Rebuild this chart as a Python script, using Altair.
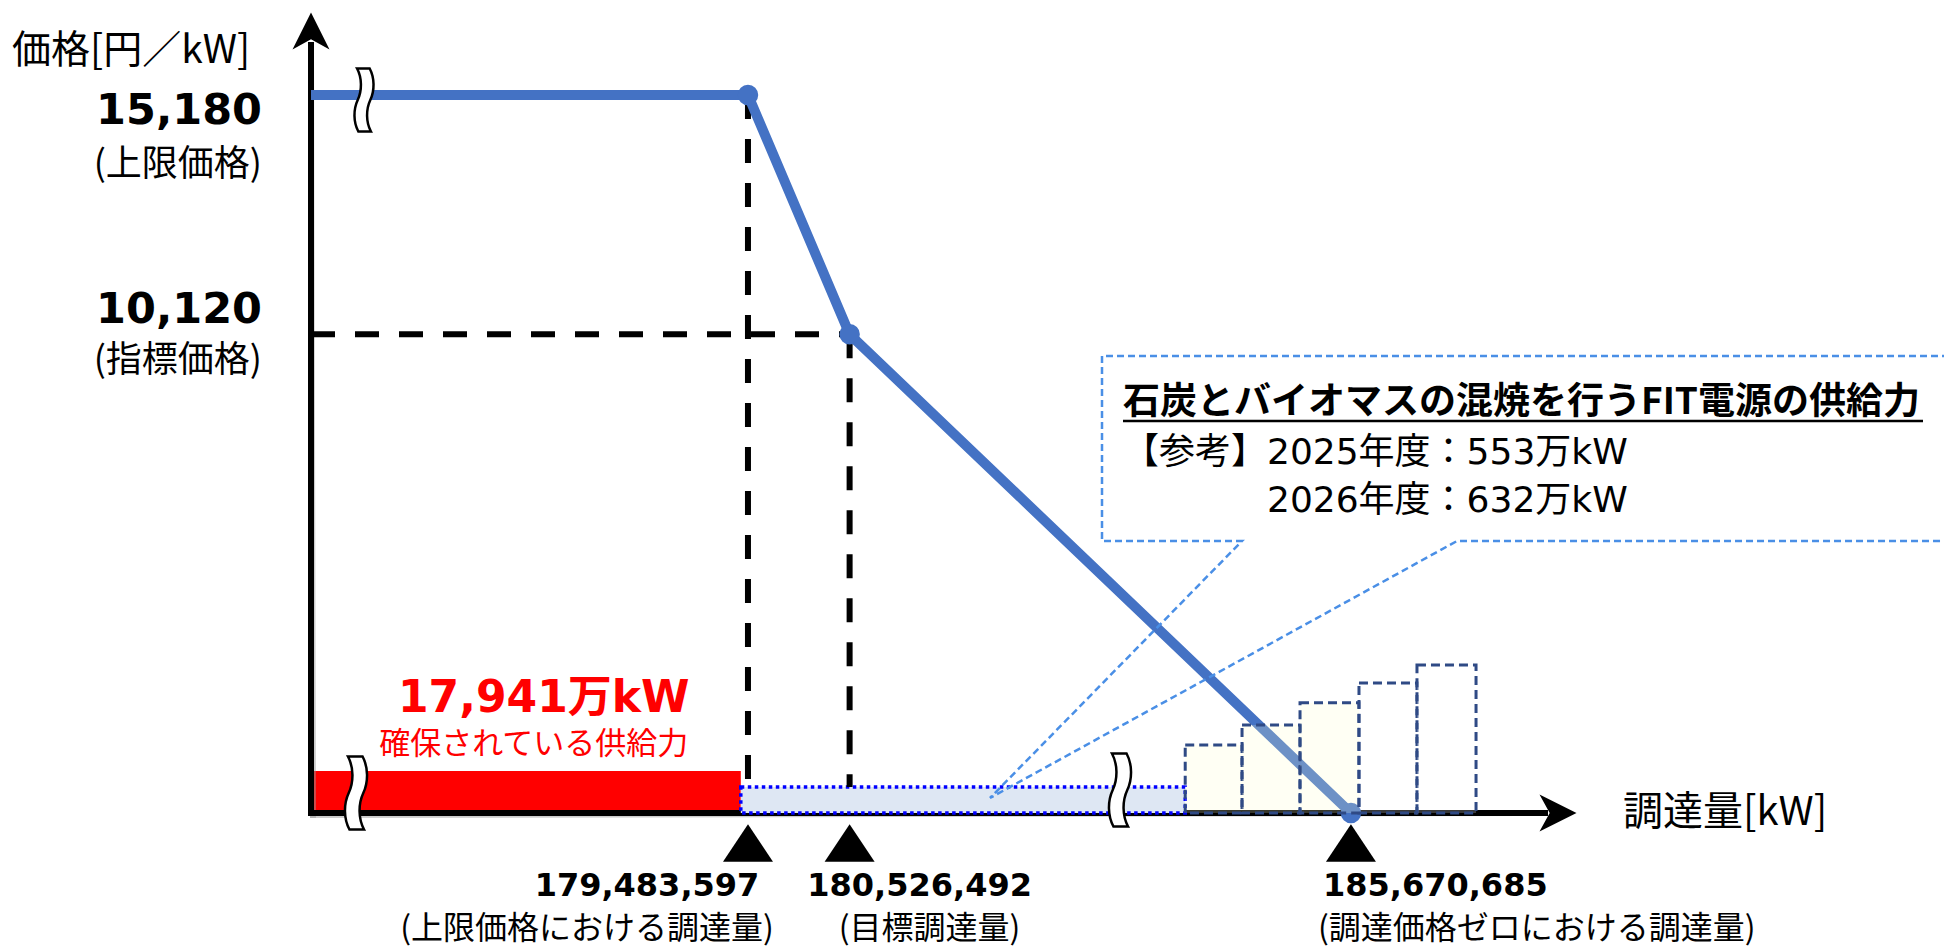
import altair as alt
import pandas as pd

# ---------------- data ----------------
# Procurement curve: volume [kW] -> price [円/kW]
curve_kw = [175_000_000, 179_483_597, 180_526_492, 185_670_685]
curve_price = [15_180, 15_180, 10_120, 0]

# Named points on the curve
point_kw = [179_483_597, 180_526_492, 185_670_685]
point_price = [15_180, 10_120, 0]
point_notes = ["(上限価格における調達量)", "(目標調達量)", "(調達価格ゼロにおける調達量)"]

# Price levels marked on the vertical axis
level_price = [15_180, 10_120]
level_notes = ["(上限価格)", "(指標価格)"]

# Secured supply (17,941万kW)
secured_kw = 179_410_000
secured_note = "確保されている供給力"

# FIT co-firing block that follows the secured supply, and the stepped bars
fit_end_kw = 183_970_000
step_left_kw = [183_970_000, 184_553_000, 185_148_000, 185_753_000, 186_348_000]
step_right_kw = [184_553_000, 185_148_000, 185_753_000, 186_348_000, 186_954_000]
step_top_price = [1_440, 1_860, 2_330, 2_750, 3_130]
step_shaded = [True, True, True, False, False]

# Callout text
callout_title = "石炭とバイオマスの混焼を行うFIT電源の供給力"
callout_lines = ["【参考】2025年度：553万kW", "2026年度：632万kW"]

# ---------------- layout ----------------
W, H = 1944, 949
AXIS_KW = curve_kw[0]            # the broken x-axis starts here
CORNER = (311, 813)              # pixel position of the axis corner
PX_PER_MKW = 97.46               # horizontal px per 1,000,000 kW
PX_PER_PRICE = 718 / 15_180      # vertical px per 円/kW


def kw_at(px):
    return AXIS_KW + (px - CORNER[0]) / PX_PER_MKW * 1e6


def price_at(py):
    return (CORNER[1] - py) / PX_PER_PRICE


XS = alt.Scale(domain=[kw_at(0), kw_at(W)], nice=False, zero=False)
YS = alt.Scale(domain=[price_at(H), price_at(0)], nice=False, zero=False)


def X(f="x"):
    return alt.X(f"{f}:Q", scale=XS, axis=None)


def Y(f="y"):
    return alt.Y(f"{f}:Q", scale=YS, axis=None)


JP = "Noto Sans CJK JP"
NUM = "DejaVu Sans, Noto Sans CJK JP"
BLUE = "#4472C4"
SECURED_TOP = price_at(771)      # thickness of the supply bands
BAND_TOP = price_at(787)

layers = []

# secured supply (red)
red = pd.DataFrame({"x": [AXIS_KW], "x2": [secured_kw], "y": [0], "y2": [SECURED_TOP]})
layers.append(alt.Chart(red).mark_rect(color="#FF0000").encode(
    x=X(), x2="x2", y=Y(), y2="y2"))

# axes with a faint drop shadow and arrowheads
axes = pd.DataFrame({"x": [AXIS_KW, AXIS_KW], "x2": [AXIS_KW, kw_at(1545)],
                     "y": [0, 0], "y2": [price_at(45), 0]})
layers.append(alt.Chart(axes).mark_rule(color="#9A9A9A", strokeWidth=6, strokeCap="square",
                                        opacity=0.5, xOffset=2, yOffset=2).encode(
    x=X(), x2="x2", y=Y(), y2="y2"))
layers.append(alt.Chart(axes).mark_rule(color="black", strokeWidth=6, strokeCap="square").encode(
    x=X(), x2="x2", y=Y(), y2="y2"))
heads = pd.DataFrame({
    "x": [AXIS_KW, kw_at(1558)],
    "y": [price_at(31), 0],
    "s": ["M0,-1 L1,1 L0,0.45 L-1,1 Z", "M1,0 L-1,-1 L-0.45,0 L-1,1 Z"],
})
layers.append(alt.Chart(heads).mark_point(filled=True, color="black", opacity=1, size=1369).encode(
    x=X(), y=Y(), shape=alt.Shape("s:N", scale=None)))

# FIT block (dotted blue)
band = pd.DataFrame({"x": [secured_kw], "x2": [fit_end_kw], "y": [0], "y2": [BAND_TOP]})
layers.append(alt.Chart(band).mark_rect(fill="#DEE7F3", stroke="#0000FF", strokeWidth=3.5,
                                        strokeDash=[3.5, 3.5]).encode(
    x=X(), x2="x2", y=Y(), y2="y2"))

# dashed guide lines from the named points
guides = pd.DataFrame({
    "x": [point_kw[0], point_kw[1], AXIS_KW],
    "x2": [point_kw[0], point_kw[1], point_kw[1]],
    "y": [point_price[0], point_price[1], point_price[1]],
    "y2": [BAND_TOP, BAND_TOP, point_price[1]],
})
layers.append(alt.Chart(guides).mark_rule(color="black", strokeWidth=6, strokeDash=[24, 20]).encode(
    x=X(), x2="x2", y=Y(), y2="y2"))

# the procurement curve
curve = pd.DataFrame({"x": curve_kw, "y": curve_price, "i": range(len(curve_kw))})
layers.append(alt.Chart(curve).mark_line(color=BLUE, strokeWidth=10, strokeJoin="round").encode(
    x=X(), y=Y(), order="i:Q"))
pts = pd.DataFrame({"x": point_kw, "y": point_price})
layers.append(alt.Chart(pts).mark_circle(color=BLUE, size=420, opacity=1).encode(x=X(), y=Y()))

# stepped bars
steps = pd.DataFrame({
    "x": step_left_kw, "x2": step_right_kw, "y": [0] * len(step_top_price), "y2": step_top_price,
    "f": ["#FFFFCC" if s else "#FFFFFF" for s in step_shaded],
})
layers.append(alt.Chart(steps).mark_rect(stroke="#2F4A85", strokeWidth=3, strokeDash=[9, 5],
                                         fillOpacity=0.22).encode(
    x=X(), x2="x2", y=Y(), y2="y2", fill=alt.Fill("f:N", scale=None)))

# callout outline with its pointer
call_px = [(1960, 356), (1102, 356), (1102, 541), (1242, 541), (990, 798), (1457, 541), (1960, 541)]
callout = pd.DataFrame({"x": [kw_at(p[0]) for p in call_px], "y": [price_at(p[1]) for p in call_px],
                        "i": range(len(call_px))})
layers.append(alt.Chart(callout).mark_line(color="#4A8FE6", strokeWidth=2.5, strokeDash=[7, 4]).encode(
    x=X(), y=Y(), order="i:Q"))

# axis-break marks
SQUIGGLE = ("M-0.22,-1 C-0.06,-0.7 -0.06,-0.3 -0.2,0 C-0.34,0.3 -0.34,0.7 -0.18,1 "
            "L0.22,1 C0.06,0.7 0.06,0.3 0.2,0 C0.34,-0.3 0.34,-0.7 0.18,-1 Z")
breaks = pd.DataFrame({
    "x": [kw_at(356), kw_at(1120), kw_at(364)],
    "y": [price_at(793), price_at(790), price_at(100)],
    "sz": [5329, 5329, 3969],
})
layers.append(alt.Chart(breaks).mark_point(shape=SQUIGGLE, filled=True, fill="white", stroke="black",
                                           strokeWidth=2.5, opacity=1).encode(
    x=X(), y=Y(), size=alt.Size("sz:Q", scale=None)))

# triangles under the named volumes
tri = pd.DataFrame({"x": point_kw})
layers.append(alt.Chart(tri).mark_point(shape="M0,-0.75 L1,0.75 L-1,0.75 Z", filled=True, color="black",
                                        opacity=1, size=2500).encode(
    x=X(), y=alt.value(843)))


def label(text, kw, price, **mark):
    df = pd.DataFrame({"x": [kw], "y": [price], "t": [text]})
    return alt.Chart(df).mark_text(**mark).encode(x=X(), y=Y(), text="t:N")


# axis titles
layers.append(label("価格[円／kW]", kw_at(12), price_at(51), align="left", font=JP, fontSize=39))
layers.append(label("調達量[kW]", kw_at(1623), price_at(813), align="left", font=JP, fontSize=40))

# price levels
for p, note, dy_num, dy_note in zip(level_price, level_notes, [16, -24], [70, 27]):
    layers.append(label(f"{p:,}", AXIS_KW, p, align="right", dx=-49, dy=dy_num,
                        font=NUM, fontSize=43, fontWeight="bold"))
    layers.append(label(note, AXIS_KW, p, align="right", dx=-49, dy=dy_note, font=JP, fontSize=36))

# named volumes
for k, note, al, dx_num, dx_note in zip(point_kw, point_notes, ["center", "center", "left"],
                                         [-101, 70, -28], [-161, 80, -33]):
    layers.append(label(f"{k:,}", k, 0, align=al, dx=dx_num, dy=73,
                        font=NUM, fontSize=32, fontWeight="bold"))
    layers.append(label(note, k, 0, align=al, dx=dx_note, dy=116, font=JP, fontSize=32))

# secured supply
layers.append(label(f"{secured_kw // 10_000:,}万kW", secured_kw, 0, dx=-197, dy=-114,
                    font=NUM, fontSize=44, fontWeight="bold", color="#FF0000"))
layers.append(label(secured_note, secured_kw, 0, dx=-207, dy=-68, font=JP, fontSize=31, color="#FF0000"))

# callout text
layers.append(label(callout_title, kw_at(1123), price_at(403), align="left", font=JP,
                    fontSize=37, fontWeight="bold"))
layers.append(alt.Chart(pd.DataFrame({"x": [kw_at(1123)], "x2": [kw_at(1923)], "y": [price_at(421)]}))
              .mark_rule(color="black", strokeWidth=2.5).encode(x=X(), x2="x2", y=Y()))
layers.append(label(callout_lines[0], kw_at(1123), price_at(453), align="left", font=NUM, fontSize=36))
layers.append(label(callout_lines[1], kw_at(1267), price_at(501), align="left", font=NUM, fontSize=36))

chart = alt.layer(*layers).properties(
    width=W, height=H, padding=0, background="white",
    autosize=alt.AutoSizeParams(type="none"),
).configure_view(strokeWidth=0)

chart.save("out.html", embed_options={"renderer": "svg", "actions": False})
